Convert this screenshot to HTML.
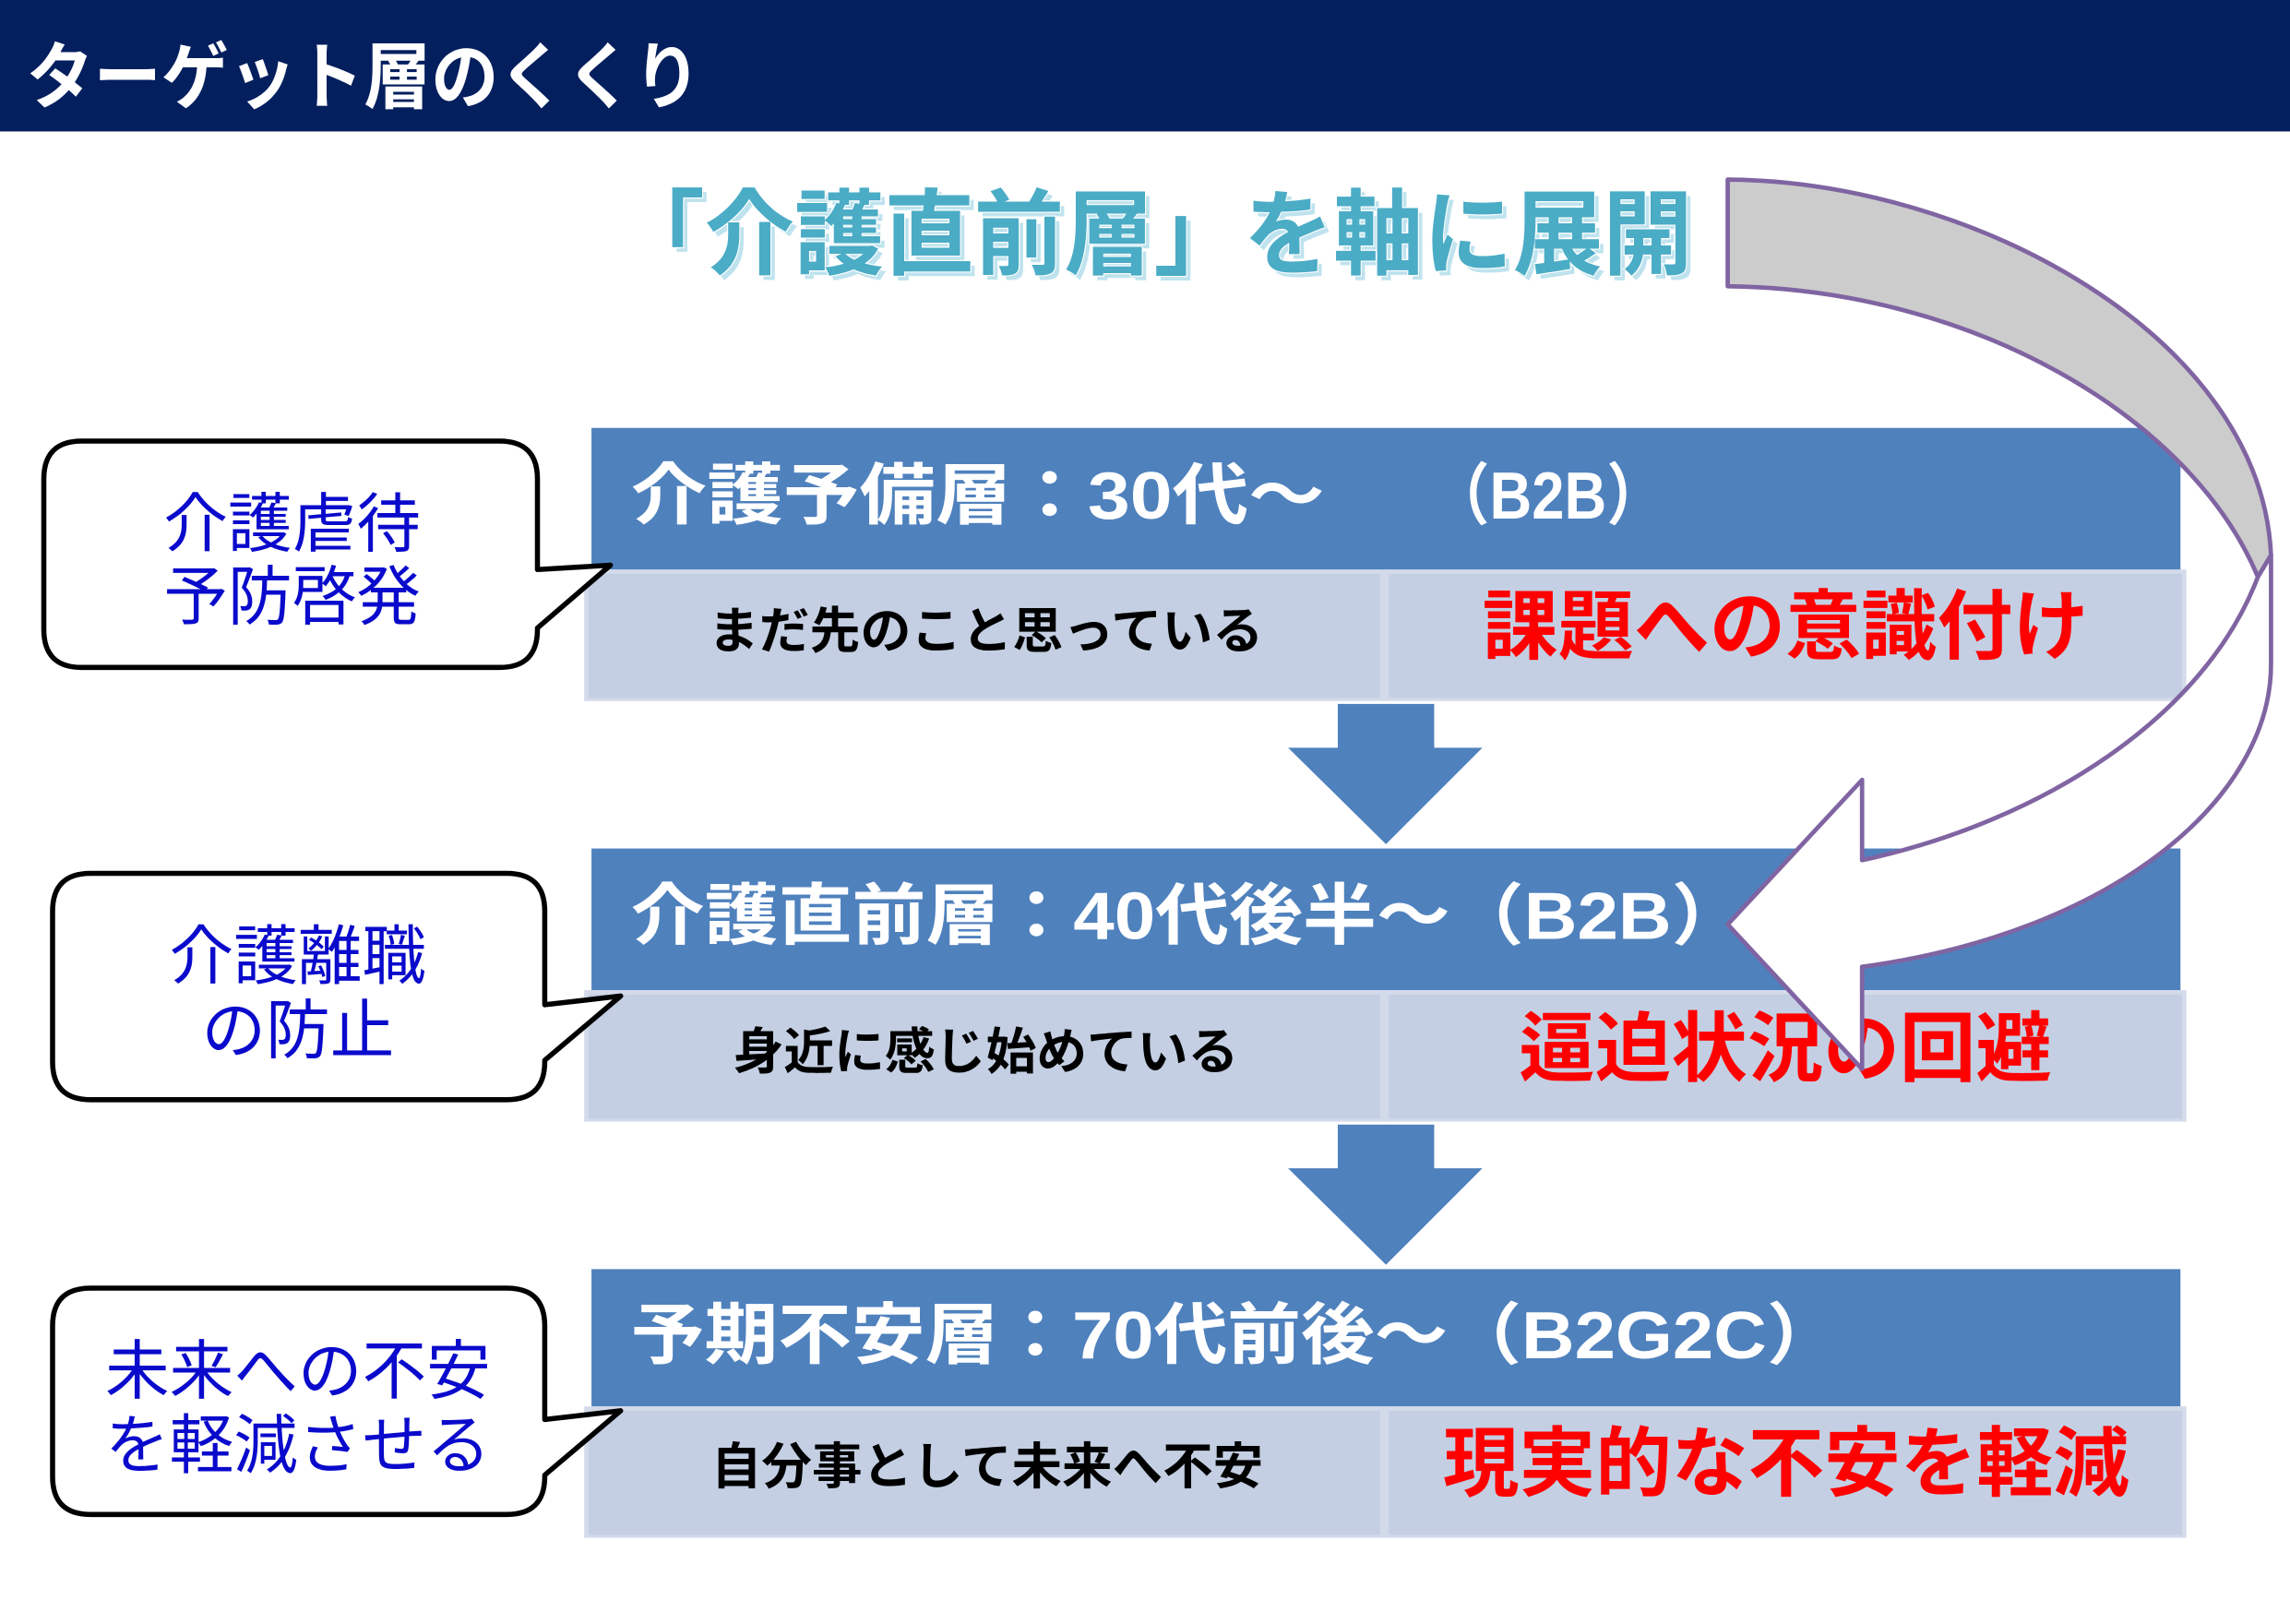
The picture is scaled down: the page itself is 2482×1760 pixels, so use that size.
<!DOCTYPE html>
<html><head><meta charset="utf-8"><style>
html,body{margin:0;padding:0;background:#fff;}
svg{display:block;}
text{font-family:"Liberation Sans","Noto Sans CJK JP",sans-serif;font-weight:bold;}
</style></head><body>
<svg width="2482" height="1760" viewBox="0 0 1568 1112" preserveAspectRatio="none">
<rect x="0" y="0" width="1568" height="1112" fill="#fff"/>
<rect x="0" y="0" width="1568" height="90" fill="#041f5e"/>
<text x="18" y="70" font-size="50" fill="#fff" textLength="462" lengthAdjust="spacingAndGlyphs">ターゲット層のくくり</text>

<text x="424" y="186" font-size="64" fill="#bfe3ee" textLength="738" lengthAdjust="spacingAndGlyphs">「介護直前層」を軸に展開</text>
<text x="421" y="183" font-size="64" fill="#4bacc6" stroke="#fff" stroke-width="1.5" paint-order="stroke" textLength="738" lengthAdjust="spacingAndGlyphs">「介護直前層」を軸に展開</text>

<!-- Row 1 -->
<rect x="405" y="293" width="1088" height="97" fill="#4f81bd"/>
<rect x="400" y="390" width="1097" height="90" fill="#d3daea"/>
<rect x="403" y="393" width="542" height="85" fill="#c4cfe3"/>
<rect x="951" y="393" width="543" height="85" fill="#c4cfe3"/>
<text x="432" y="355" font-size="46" fill="#fff" textLength="475" lengthAdjust="spacingAndGlyphs">介護予備層：30代～</text>
<text x="980" y="355" font-size="46" fill="#fff" textLength="160" lengthAdjust="spacingAndGlyphs">（B2B）</text>
<text x="485" y="444" font-size="34" fill="#000" textLength="380" lengthAdjust="spacingAndGlyphs">まだ先のこと思っている</text>
<text x="1015" y="447" font-size="52" fill="#ff0000" textLength="415" lengthAdjust="spacingAndGlyphs">課題への意識付け</text>

<!-- Arrow 1 -->
<polygon points="916,482 982,482 982,512 1015,512 949,578 882,512 916,512" fill="#4f81bd"/>

<!-- Row 2 -->
<rect x="405" y="581" width="1088" height="97" fill="#4f81bd"/>
<rect x="400" y="678" width="1097" height="90" fill="#d3daea"/>
<rect x="403" y="681" width="542" height="85" fill="#c4cfe3"/>
<rect x="951" y="681" width="543" height="85" fill="#c4cfe3"/>
<text x="432" y="643" font-size="46" fill="#fff" textLength="763" lengthAdjust="spacingAndGlyphs">介護直前層：40代後半～（B2B）</text>
<text x="502" y="732" font-size="34" fill="#000" textLength="346" lengthAdjust="spacingAndGlyphs">身近に感じ始めている</text>
<text x="1040" y="736" font-size="52" fill="#ff0000" textLength="365" lengthAdjust="spacingAndGlyphs">逼迫状況の回避</text>

<!-- Arrow 2 -->
<polygon points="916,770 982,770 982,800 1015,800 949,866 882,800 916,800" fill="#4f81bd"/>

<!-- Row 3 -->
<rect x="405" y="869" width="1088" height="94" fill="#4f81bd"/>
<rect x="400" y="963" width="1097" height="90" fill="#d3daea"/>
<rect x="403" y="966" width="542" height="85" fill="#c4cfe3"/>
<rect x="951" y="966" width="543" height="85" fill="#c4cfe3"/>
<text x="432" y="930" font-size="46" fill="#fff" textLength="828" lengthAdjust="spacingAndGlyphs">予期不安層：70代前後～（B2G2C）</text>
<text x="487" y="1016" font-size="34" fill="#000" textLength="378" lengthAdjust="spacingAndGlyphs">自分事として未来へ不安</text>
<text x="988" y="1020" font-size="52" fill="#ff0000" textLength="470" lengthAdjust="spacingAndGlyphs">現実的な不安を軽減</text>

<!-- Callouts -->
<g fill="#fff" stroke="#000" stroke-width="3.5" stroke-linejoin="round">
<path d="M56,302 H342 Q368,302 368,328 V390 L418,387 L368,430 V431 Q368,457 342,457 H56 Q30,457 30,431 V328 Q30,302 56,302 Z"/>
<path d="M62,598 H347 Q373,598 373,624 V688 L425,682 L373,726 V727 Q373,753 347,753 H62 Q36,753 36,727 V624 Q36,598 62,598 Z"/>
<path d="M62,882 H347 Q373,882 373,908 V972 L425,966 L373,1010 V1011 Q373,1037 347,1037 H62 Q36,1037 36,1011 V908 Q36,882 62,882 Z"/>
</g>
<g fill="#0a0acc" font-size="44" text-anchor="middle" style="font-weight:normal">
<text x="200" y="374" style="font-weight:normal">介護虐待</text>
<text x="200" y="424" style="font-weight:normal">予防啓発</text>
<text x="204" y="670" style="font-weight:normal">介護離職</text>
<text x="204" y="721" style="font-weight:normal">の防止</text>
<text x="204" y="954" style="font-weight:normal">未来への不安</text>
<text x="204" y="1005" style="font-weight:normal">を軽減させる</text>
</g>

<!-- Curved arrow -->
<g stroke="#8064a2" stroke-width="3" stroke-linejoin="round">
<path d="M1546,395 C1510,490 1400,562 1275,589 L1275,534 L1183,633 L1275,732 L1275,662 C1450,638 1555,545 1555,455 L1555,380 Z" fill="#fff"/>
<path d="M1183,123 C1350,124 1548,230 1555,380 L1546,395 C1500,285 1350,198 1183,196 Z" fill="#cccccc"/>
</g>
</svg>
</body></html>
